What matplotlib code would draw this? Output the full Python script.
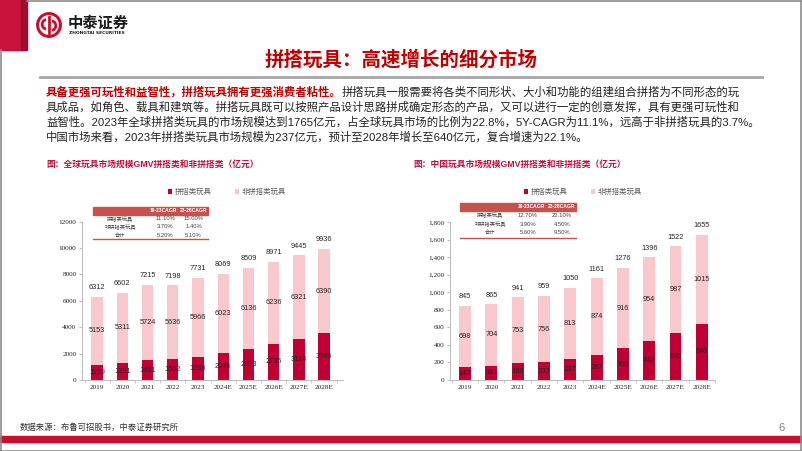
import matplotlib
matplotlib.use("Agg")
import matplotlib.pyplot as plt
from matplotlib.patches import Rectangle, Circle, Arc
from matplotlib.lines import Line2D
from matplotlib.ticker import FuncFormatter

W, H = 802, 451
CJK = ['Noto Sans CJK SC', 'DejaVu Sans']
MIX = ['Liberation Sans', 'Noto Sans CJK SC', 'DejaVu Sans']

# 数据
years = ['2019', '2020', '2021', '2022', '2023', '2024E', '2025E', '2026E', '2027E', '2028E']
global_build = [1159, 1291, 1491, 1562, 1765, 2046, 2373, 2735, 3124, 3546]
global_other = [5153, 5311, 5724, 5636, 5966, 6023, 6136, 6236, 6321, 6390]
china_build = [147, 161, 188, 203, 237, 287, 360, 442, 535, 640]
china_other = [698, 704, 753, 756, 813, 874, 916, 954, 987, 1015]
series_names = ['拼搭类玩具', '非拼搭类玩具']

table_rows = ['拼搭类玩具', '非拼搭类玩具', '合计']
table_cols = ['19-23CAGR', '23-28CAGR']
global_cagr = [['11.10%', '15.00%'], ['3.70%', '1.40%'], ['5.20%', '5.10%']]
china_cagr = [['12.70%', '22.10%'], ['3.90%', '4.50%'], ['5.60%', '9.50%']]

DARK = '#C00032'
LIGHT = '#F9C8CD'
RED = '#C8102E'
HEAD = '#C8504F'


def fx(x):
    return x / W


def fy(y):
    return 1 - y / H


fig = plt.figure(figsize=(W / 100, H / 100), dpi=100)
fig.patch.set_facecolor('white')

# 边框和页眉
fig.patches.append(Rectangle((0, fy(50)), fx(21), 50 / H, transform=fig.transFigure, color='#C8143C', zorder=1))
fig.patches.append(Rectangle((fx(21), fy(50)), fx(6), 50 / H, transform=fig.transFigure, color='#9E0E30', zorder=1))
for xs, ys in [((27, 802), (0.5, 0.5)), ((0.8, 0.8), (50, 451)), ((801.2, 801.2), (0, 451)), ((0, 802), (450.5, 450.5))]:
    fig.lines.append(Line2D([fx(v) for v in xs], [fy(v) for v in ys], transform=fig.transFigure,
                            color='#8C8C8C', lw=1.2))

logo = fig.add_axes([fx(36), fy(38), 26 / W, 26 / H])
logo.set_xlim(-1, 1)
logo.set_ylim(-1, 1)
logo.set_aspect('equal')
logo.axis('off')
logo.add_patch(Circle((0, 0), 0.88, fill=False, ec=RED, lw=2.2))
logo.add_patch(Arc((-0.22, 0.05), 0.6, 0.7, theta1=90, theta2=270, ec=RED, lw=2.0))
logo.add_patch(Arc((0.22, -0.05), 0.6, 0.7, theta1=-90, theta2=90, ec=RED, lw=2.0))
logo.plot([0, 0], [-0.6, 0.6], color=RED, lw=2.0)

fig.text(fx(68), fy(23), '中泰证券', family=CJK, fontsize=11, fontweight='bold', color='#1A1A1A', va='center')
fig.text(fx(69), fy(33.5), 'ZHONGTAI SECURITIES', family=['DejaVu Sans'], fontsize=3.2, fontweight='bold',
         color='#1A1A1A', va='center')

fig.text(0.5, fy(60), '拼搭玩具：高速增长的细分市场', family=CJK, fontsize=14, fontweight='bold',
         color='#C00000', ha='center', va='center')
fig.lines.append(Line2D([fx(40), fx(762)], [fy(77), fy(77)], transform=fig.transFigure, color='#A6A6A6', lw=2))

# 正文
fs = 8.2
t1 = fig.text(fx(46), fy(92), '具备更强可玩性和益智性，拼搭玩具拥有更强消费者粘性。', family=MIX, fontsize=fs,
              fontweight='bold', color='#C00000', va='center')
fig.texts.append(plt.Annotation('拼搭玩具一般需要将各类不同形状、大小和功能的组建组合拼搭为不同形态的玩',
                                xy=(1, 0.5), xycoords=t1, va='center', ha='left', family=MIX, fontsize=fs,
                                color='#222222'))
fig.texts[-1].set_figure(fig)
body = [
    '具成品，如角色、载具和建筑等。拼搭玩具既可以按照产品设计思路拼成确定形态的产品，又可以进行一定的创意发挥，具有更强可玩性和',
    '益智性。2023年全球拼搭类玩具的市场规模达到1765亿元，占全球玩具市场的比例为22.8%，5Y-CAGR为11.1%，远高于非拼搭玩具的3.7%。',
    '中国市场来看，2023年拼搭类玩具市场规模为237亿元，预计至2028年增长至640亿元，复合增速为22.1%。',
]
for i, line in enumerate(body):
    fig.text(fx(46), fy(107 + 15 * i), line, family=MIX, fontsize=fs, color='#222222', va='center')


def draw_chart(rect, build, other, ymax, ystep, fmt, xlim, sub_x, subtitle, leg_x, table):
    ax = fig.add_axes(rect)
    x = list(range(len(years)))
    ax.bar(x, build, width=0.45, color=DARK, label=series_names[0], zorder=2)
    ax.bar(x, other, width=0.45, bottom=build, color=LIGHT, label=series_names[1], zorder=2)
    for i in x:
        tot = build[i] + other[i]
        ax.text(i, build[i] / 2, str(build[i]), ha='center', va='center', fontsize=5.3,
                family='Liberation Sans', color='#262626', zorder=3)
        ax.text(i, build[i] + other[i] / 2, str(other[i]), ha='center', va='center', fontsize=5.3,
                family='Liberation Sans', color='#262626', zorder=3)
        ax.annotate(str(tot), (i, tot), xytext=(0, 6.5), textcoords='offset points', ha='center',
                    va='center', fontsize=5.3, family='Liberation Sans', color='#262626')
    ax.set_xlim(*xlim)
    ax.set_ylim(0, ymax)
    ax.set_yticks(range(0, ymax + 1, ystep))
    ax.yaxis.set_major_formatter(FuncFormatter(fmt))
    ax.set_xticks(x)
    ax.set_xticklabels(years)
    ax.set_xticks([v + 0.5 for v in range(-1, len(years))], minor=True)
    for s in ['top', 'right']:
        ax.spines[s].set_visible(False)
    for s in ['left', 'bottom']:
        ax.spines[s].set_color('#BFBFBF')
        ax.spines[s].set_linewidth(0.8)
    ax.tick_params(axis='x', which='major', length=0, pad=3.5, labelsize=5.2, colors='#262626')
    ax.tick_params(axis='x', which='minor', length=2, color='#BFBFBF')
    ax.tick_params(axis='y', length=2, pad=2, labelsize=5.2, colors='#262626', color='#BFBFBF')
    for lab in ax.get_xticklabels() + ax.get_yticklabels():
        lab.set_family('Liberation Serif')

    fig.text(fx(sub_x), fy(164), subtitle, family=MIX, fontsize=6.3, fontweight='bold', color='#C0103C',
             va='center')
    ax.legend(loc='center', bbox_to_anchor=(fx(leg_x), fy(192)), bbox_transform=fig.transFigure, ncol=2,
              frameon=False, handlelength=0.55, handleheight=0.55, handletextpad=0.3,
              columnspacing=3.2, prop={'family': CJK, 'size': 5.3}, labelcolor='#595959')

    x0, x1, hc1, hc2 = table[:4]
    hy0, hy1 = table[7:9]
    fig.patches.append(Rectangle((fx(x0), fy(hy1)), fx(x1 - x0), (hy1 - hy0) / H, transform=fig.transFigure,
                                 color=HEAD, zorder=3))
    for cx, col in zip((hc1, hc2), table_cols):
        fig.text(fx(cx), fy((hy0 + hy1) / 2), col, family='Liberation Sans', fontsize=3.6, fontweight='bold',
                 color='white', ha='center', va='center', zorder=4)
    return ax


def cagr_rows(vals, table, rows_y):
    x0, x1, hc1, hc2, lab_x, c1, c2, hy0, hy1, line_y = table
    for ry, name, v in zip(rows_y, table_rows, vals):
        fig.text(fx(lab_x), fy(ry), name, family=CJK, fontsize=3.8, color='#404040', ha='center', va='center')
        fig.text(fx(c1), fy(ry), v[0], family='Liberation Sans', fontsize=4.2, color='#404040', ha='center',
                 va='center')
        fig.text(fx(c2), fy(ry), v[1], family='Liberation Sans', fontsize=4.2, color='#404040', ha='center',
                 va='center')
    fig.lines.append(Line2D([fx(x0), fx(x1)], [fy(line_y), fy(line_y)], transform=fig.transFigure,
                            color=HEAD, lw=1))


left_table = (93, 208, 163.5, 193.5, 120, 165, 193.5, 207, 215, 239)
left_rows = (219, 227, 235)
draw_chart([fx(82), fy(380), fx(343) - fx(82), (380 - 221.7) / H], global_build, global_other, 12000, 2000,
           lambda v, p: '%d' % v, (-0.6, 9.75), 46, '图：全球玩具市场规模GMV拼搭类和非拼搭类（亿元）', 227,
           left_table)
cagr_rows(global_cagr, left_table, left_rows)

right_table = (460, 576, 531.5, 561.5, 490, 528, 562, 203, 211, 238)
right_rows = (215.5, 224, 233)
draw_chart([fx(450), fy(380), fx(715) - fx(450), (380 - 222) / H], china_build, china_other, 1800, 200,
           lambda v, p: '{:,}'.format(int(v)), (-0.57, 9.5), 413, '图：中国玩具市场规模GMV拼搭类和非拼搭类（亿元）',
           583, right_table)
cagr_rows(china_cagr, right_table, right_rows)

# 页脚
fig.text(fx(20), fy(427), '数据来源：布鲁可招股书，中泰证券研究所', family=CJK, fontsize=6, color='#333333', va='center')
fig.text(fx(778), fy(428), '6', family='Liberation Sans', fontsize=8, color='#7F7F7F', va='center')
fig.patches.append(Rectangle((0, fy(441.5)), 1, 6 / H, transform=fig.transFigure, color=RED, zorder=1))

fig.savefig('out.png', dpi=100)
